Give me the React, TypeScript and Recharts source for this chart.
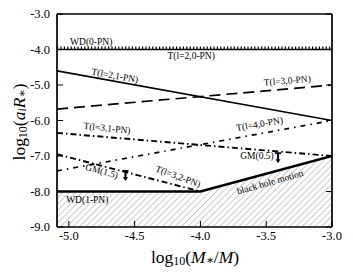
import {
  ComposedChart,
  Line,
  Area,
  XAxis,
  YAxis,
  ReferenceDot,
} from 'recharts';

// axis ticks
const xTicks = [-5.0, -4.5, -4.0, -3.5, -3.0];
const yTicks = [-9, -8, -7, -6, -5, -4, -3];

// straight lines, from the left edge to the right edge
const lineX = [-5.09, -3.0];
const wd0 = [-3.95, -3.95];
const t20 = [-4.0, -4.0];
const t21 = [-4.6, -6.0];
const t30 = [-5.68, -5.0];
const t31 = [-6.35, -7.0];
const t40 = [-7.42, -6.0];

// T(l=3,2-PN) stops at the black hole boundary
const t32X = [-5.09, -4.0];
const t32 = [-6.95, -8.0];

// WD(1-PN) + black hole motion boundary (hatched below)
const bhX = [-5.09, -4.0, -3.0];
const bhY = [-8.0, -8.0, -7.0];

// GM arrows (top of arrow)
const gmX = [-4.57, -3.41];
const gmY = [-7.42, -6.92];

// curve labels
const labelText = [
  'WD(0-PN)', 'T(l=2,0-PN)', 'T(l=2,1-PN)', 'T(l=3,0-PN)', 'T(l=3,1-PN)',
  'T(l=4,0-PN)', 'GM(1.5)', 'T(l=3,2-PN)', 'GM(0.5)', 'WD(1-PN)', 'black hole motion',
];
const labelX = [-4.83, -4.07, -4.65, -3.34, -4.71, -3.55, -4.75, -4.17, -3.57, -4.86, -3.47];
const labelY = [-3.8, -4.19, -4.74, -4.88, -6.22, -6.1, -7.43, -7.58, -7.0, -8.24, -7.74];
const labelAngle = [0, 0, 10, -5, 6, -10, 15, 20, 0, 0, -16];

const toPoints = (xs: number[], ys: number[]) => xs.map((x, i) => ({ x, y: ys[i] }));

const FONT = '"Liberation Serif", "DejaVu Serif", serif';

const lines = [
  { key: 'wd0', data: toPoints(lineX, wd0), dash: '1.2 2.2', width: 2.4 },
  { key: 't20', data: toPoints(lineX, t20), dash: undefined, width: 1.7 },
  { key: 't21', data: toPoints(lineX, t21), dash: undefined, width: 1.7 },
  { key: 't30', data: toPoints(lineX, t30), dash: '11 6', width: 1.7 },
  { key: 't31', data: toPoints(lineX, t31), dash: '6 3 1.5 3', width: 1.9 },
  { key: 't40', data: toPoints(lineX, t40), dash: '5 5 1.5 5', width: 1.7 },
  { key: 't32', data: toPoints(t32X, t32), dash: '6 3 1.5 3', width: 1.9 },
];

const GmArrow = (props: any) => {
  const { cx, cy } = props;
  if (cx == null || cy == null) return null;
  return (
    <g stroke="#000" fill="#000">
      <line x1={cx - 3} y1={cy} x2={cx + 3} y2={cy} strokeWidth={1.8} />
      <line x1={cx} y1={cy} x2={cx} y2={cy + 7} strokeWidth={2} />
      <path d={`M${cx - 2.5},${cy + 6} L${cx + 2.5},${cy + 6} L${cx},${cy + 10} Z`} stroke="none" />
    </g>
  );
};

const makeLabel = (text: string, angle: number) => (props: any) => {
  const { cx, cy } = props;
  if (cx == null || cy == null) return null;
  return (
    <text
      x={cx}
      y={cy}
      textAnchor="middle"
      dominantBaseline="central"
      fontSize={9.5}
      fontFamily={FONT}
      fill="#000"
      transform={`rotate(${angle} ${cx} ${cy})`}
    >
      {text}
    </text>
  );
};

const YLabel = () => (
  <text
    x={19}
    y={122}
    transform="rotate(-90 19 122)"
    textAnchor="middle"
    dominantBaseline="central"
    fontFamily={FONT}
    fontSize={17.5}
    fill="#000"
  >
    <tspan>log</tspan>
    <tspan fontSize={12} dy={4}>10</tspan>
    <tspan dy={-4}>(</tspan>
    <tspan fontStyle="italic">a</tspan>
    <tspan fontStyle="italic" fontSize={12} dy={3}>i</tspan>
    <tspan fontStyle="italic" dy={-3}>R</tspan>
    <tspan fontSize={12} dy={3}>∗</tspan>
    <tspan dy={-3}>)</tspan>
  </text>
);

const XLabel = () => (
  <text
    x={195}
    y={257}
    textAnchor="middle"
    dominantBaseline="central"
    fontFamily={FONT}
    fontSize={17.5}
    fill="#000"
  >
    <tspan>log</tspan>
    <tspan fontSize={12} dy={4}>10</tspan>
    <tspan dy={-4}>(</tspan>
    <tspan fontStyle="italic">M</tspan>
    <tspan fontSize={12} dy={3}>∗</tspan>
    <tspan dy={-3}>/</tspan>
    <tspan fontStyle="italic">M</tspan>
    <tspan>)</tspan>
  </text>
);

const fmt = (v: number) => v.toFixed(1);
const blank = () => '';

export default function App() {
  return (
    <div style={{ position: 'absolute', left: 0, top: 0, background: '#fff' }}>
      <ComposedChart
        width={353}
        height={273}
        margin={{ top: 13, right: 20, bottom: 1, left: 0 }}
      >
        <defs>
          <pattern id="hatch" width={4.5} height={4.5} patternUnits="userSpaceOnUse" patternTransform="rotate(45)">
            <line x1={0} y1={0} x2={0} y2={4.5} stroke="#666" strokeWidth={0.7} />
          </pattern>
        </defs>
        <XAxis
          dataKey="x"
          type="number"
          domain={[-5.09, -3.0]}
          ticks={xTicks}
          tickFormatter={fmt}
          height={45}
          tickSize={-6}
          tickMargin={10}
          axisLine={{ stroke: '#000', strokeWidth: 1.7 }}
          tickLine={{ stroke: '#000', strokeWidth: 1 }}
          tick={{ fill: '#000', fontSize: 12.5, fontFamily: FONT }}
          allowDataOverflow
          label={{ content: () => <XLabel /> }}
        />
        <XAxis
          xAxisId="top"
          orientation="top"
          type="number"
          domain={[-5.09, -3.0]}
          ticks={xTicks}
          tickFormatter={blank}
          height={1}
          tickSize={-6}
          axisLine={{ stroke: '#000', strokeWidth: 1.7 }}
          tickLine={{ stroke: '#000', strokeWidth: 1 }}
          allowDataOverflow
        />
        <YAxis
          type="number"
          domain={[-9, -3]}
          ticks={yTicks}
          tickFormatter={fmt}
          width={57}
          tickSize={-6}
          tickMargin={13}
          axisLine={{ stroke: '#000', strokeWidth: 1.7 }}
          tickLine={{ stroke: '#000', strokeWidth: 1 }}
          tick={{ fill: '#000', fontSize: 12.5, fontFamily: FONT }}
          allowDataOverflow
          label={{ content: () => <YLabel /> }}
        />
        <YAxis
          yAxisId="right"
          orientation="right"
          type="number"
          domain={[-9, -3]}
          ticks={yTicks}
          tickFormatter={blank}
          width={1}
          tickSize={-6}
          axisLine={{ stroke: '#000', strokeWidth: 1.7 }}
          tickLine={{ stroke: '#000', strokeWidth: 1 }}
          allowDataOverflow
        />
        <Area
          data={toPoints(bhX, bhY)}
          dataKey="y"
          type="linear"
          baseValue={-9}
          fill="url(#hatch)"
          fillOpacity={1}
          stroke="#000"
          strokeWidth={2.4}
          isAnimationActive={false}
        />
        {lines.map((l) => (
          <Line
            key={l.key}
            data={l.data}
            dataKey="y"
            type="linear"
            stroke="#000"
            strokeWidth={l.width}
            strokeDasharray={l.dash}
            dot={false}
            activeDot={false}
            isAnimationActive={false}
          />
        ))}
        {gmX.map((x, i) => (
          <ReferenceDot key={`gm-${i}`} x={x} y={gmY[i]} r={0} shape={GmArrow} ifOverflow="visible" />
        ))}
        {labelText.map((t, i) => (
          <ReferenceDot
            key={`lab-${i}`}
            x={labelX[i]}
            y={labelY[i]}
            r={0}
            shape={makeLabel(t, labelAngle[i])}
            ifOverflow="visible"
          />
        ))}
      </ComposedChart>
    </div>
  );
}
